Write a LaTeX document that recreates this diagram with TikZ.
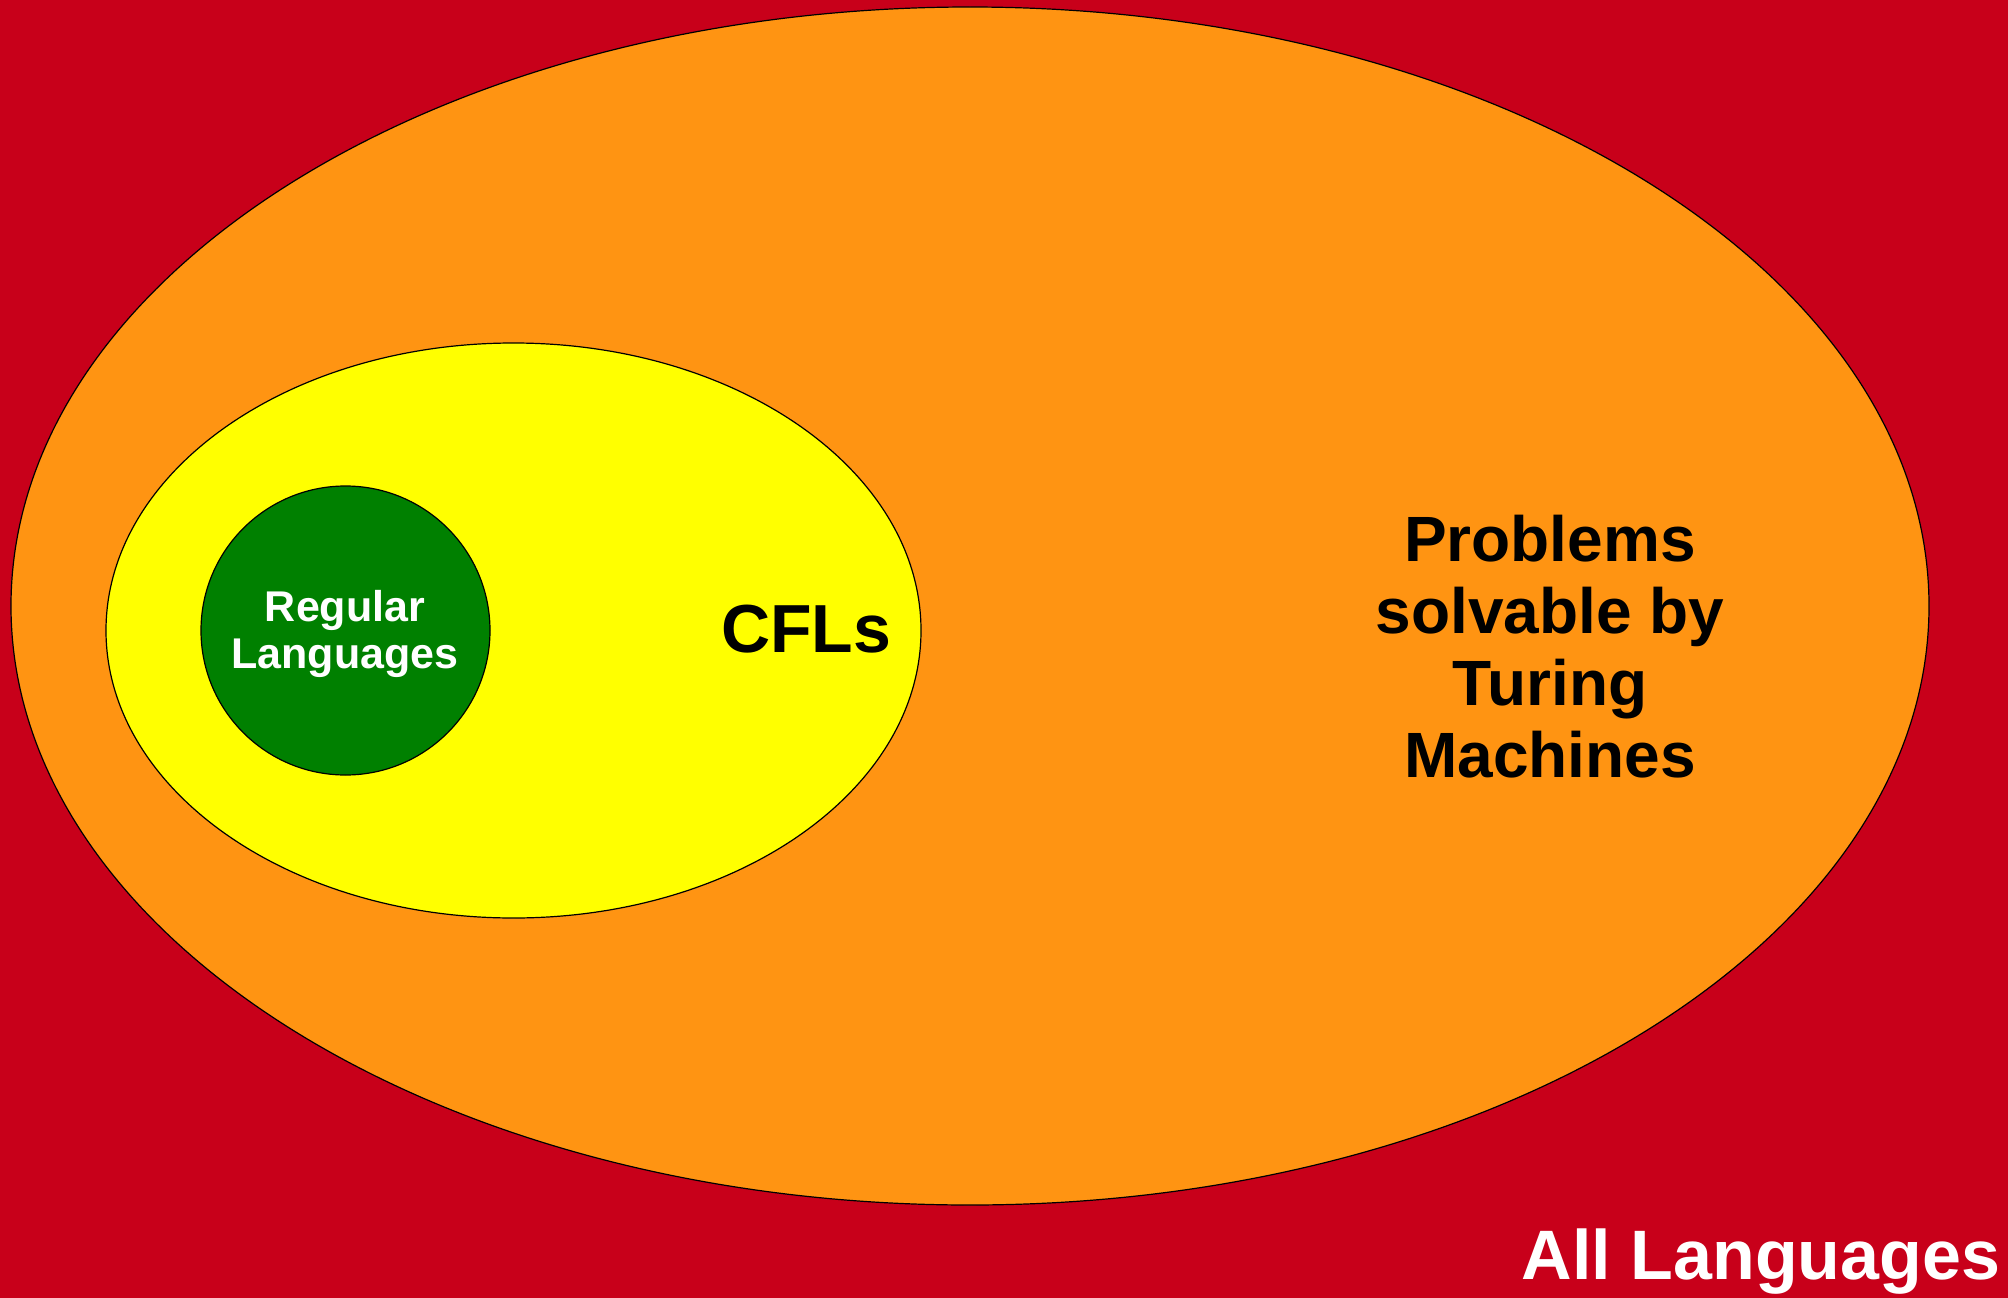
\documentclass[tikz,border=0pt]{standalone}
\usepackage{fontspec}
\setmainfont{Liberation Sans}
\definecolor{bgred}{RGB}{200,0,26}
\definecolor{tmorange}{RGB}{255,148,18}
\definecolor{cflyellow}{RGB}{255,255,0}
\definecolor{reggreen}{RGB}{0,128,0}
\begin{document}
\begin{tikzpicture}[x=1pt,y=-1pt,
  region/.style={draw=black,line width=1.2pt},
  lbl/.style={inner sep=0pt,align=center,font=\bfseries}]
\useasboundingbox (0,0) rectangle (2008,1298);
\fill[bgred] (0,0) rectangle (2008,1298);
\draw[region,fill=tmorange] (970,606) ellipse [x radius=959, y radius=599];
\draw[region,fill=cflyellow] (513.5,630.5) ellipse [x radius=407.5, y radius=287.5];
\draw[region,fill=reggreen] (345.5,630.5) circle [radius=144.5];
\node[lbl,text=white,font=\bfseries\fontsize{43}{47.5}\selectfont] (reg) at (345,634) {Regular\\Languages};
\node[lbl,anchor=base,font=\bfseries\fontsize{68}{72}\selectfont] (cfl) at (806,652) {CFLs};
\node[lbl,font=\bfseries\fontsize{64}{72}\selectfont] (tm) at (1550,647) {Problems\\solvable by\\Turing\\Machines};
\node[lbl,anchor=base,text=white,font=\bfseries\fontsize{70}{80}\selectfont] (all) at (1761,1279) {All Languages};
\end{tikzpicture}
\end{document}
